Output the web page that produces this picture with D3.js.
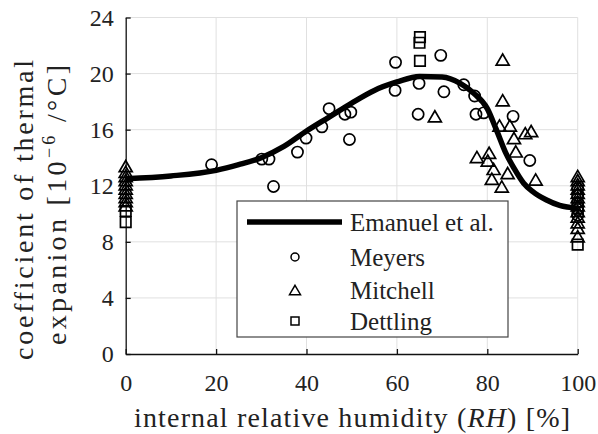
<html>
  <head>
    <title>thermal expansion vs RH</title>
    <script type="text/javascript" src="https://cdn.jsdelivr.net/npm/d3@7"></script>
    <style>
      body { margin: 0; background: white; }
      svg { display: block; }
    </style>
  </head>
  <body>
    <script type="text/javascript">
      // Size
      const w = 598;
      const h = 434;

      // Axis ticks
      const xTicks = [0, 20, 40, 60, 80, 100];
      const yTicks = [0, 4, 8, 12, 16, 20, 24];

      // Emanuel et al. model curve
      const curveRH  = [0, 10, 20, 25, 30, 35, 40, 45, 50, 55, 60, 65, 70, 74, 77, 80, 82, 84, 86, 88, 90, 93, 96, 100];
      const curveCTE = [12.5, 12.7, 13.1, 13.5, 14.0, 14.8, 15.9, 16.9, 17.9, 18.8, 19.4, 19.8, 19.75, 19.3, 18.6, 17.5, 16.0, 14.4, 13.2, 12.2, 11.6, 11.0, 10.6, 10.4];

      // Meyers (circles)
      const meyersRH  = [19, 30.1, 31.7, 32.7, 38.0, 39.9, 43.4, 45.0, 48.5, 49.8, 49.5, 59.7, 59.6, 64.9, 64.7, 69.7, 70.4, 74.8, 77.2, 77.5, 79.2, 85.7, 89.4, 100, 100, 100, 100, 100];
      const meyersCTE = [13.5, 13.9, 13.9, 11.95, 14.4, 15.4, 16.2, 17.5, 17.1, 17.25, 15.3, 20.8, 18.8, 19.3, 17.1, 21.3, 18.7, 19.2, 18.4, 17.1, 17.2, 16.95, 13.8, 11.8, 11.3, 10.8, 10.3, 9.9];

      // Mitchell (triangles)
      const mitchellRH  = [0, 0, 0, 0, 0, 0, 0, 0, 0, 0,
        68.4, 83.4, 83.4, 82.7, 85.0, 85.9, 88.4, 89.7, 86.3, 77.7, 80.4, 80.1, 81.4, 84.5, 81.0, 90.7, 83.2,
        100, 100, 100, 100, 100, 100, 100, 100, 100, 100, 100, 100, 100];
      const mitchellCTE = [13.4, 13.0, 12.7, 12.4, 12.1, 11.8, 11.5, 11.2, 10.9, 10.6,
        16.95, 21.0, 18.1, 16.3, 16.3, 15.4, 15.75, 15.9, 14.45, 14.05, 14.35, 13.8, 13.2, 12.9, 12.5, 12.45, 11.95,
        12.7, 12.4, 12.1, 11.8, 11.5, 11.2, 10.9, 10.6, 10.2, 9.8, 9.4, 9.0, 8.4];

      // Dettling (squares)
      const dettlingRH  = [0, 0, 65.1, 65.0, 65.1, 100, 100];
      const dettlingCTE = [10.2, 9.4, 22.6, 22.2, 20.9, 10.4, 7.8];

      const legendNames = ["Emanuel et al.", "Meyers", "Mitchell", "Dettling"];

      const face = "'Liberation Serif', 'Times New Roman', 'DejaVu Serif', serif";

      // Scales
      const xScale = d3.scaleLinear().domain([0, 100]).range([125.7, 577.7]);
      const yScale = d3.scaleLinear().domain([0, 24]).range([354, 17.5]);

      const svg = d3.select("body").append("svg")
        .attr("width", w)
        .attr("height", h)
        .attr("font-family", face);

      svg.append("rect").attr("width", w).attr("height", h).attr("fill", "white");

      // Grid
      svg.append("g").selectAll("line")
        .data(xTicks.slice(1))
        .enter().append("line")
        .attr("x1", d => xScale(d)).attr("x2", d => xScale(d))
        .attr("y1", yScale(0)).attr("y2", yScale(24))
        .attr("stroke", "#e0e0e0").attr("stroke-width", 1);
      svg.append("g").selectAll("line")
        .data(yTicks.slice(1))
        .enter().append("line")
        .attr("y1", d => yScale(d)).attr("y2", d => yScale(d))
        .attr("x1", xScale(0)).attr("x2", xScale(100))
        .attr("stroke", "#e0e0e0").attr("stroke-width", 1);

      // Axes (ticks inward)
      const xAxis = d3.axisBottom(xScale).tickValues(xTicks).tickSizeInner(-5).tickSizeOuter(0).tickPadding(12);
      const gx = svg.append("g")
        .attr("transform", "translate(0," + yScale(0) + ")")
        .call(xAxis);
      const yAxis = d3.axisLeft(yScale).tickValues(yTicks).tickSizeInner(-5).tickSizeOuter(0).tickPadding(12);
      const gy = svg.append("g")
        .attr("transform", "translate(" + xScale(0) + ",0)")
        .call(yAxis);
      [gx, gy].forEach(g => {
        g.attr("font-family", face);
        g.selectAll("text").attr("font-size", 24).attr("fill", "#222");
        g.selectAll("line, path").attr("stroke", "#111").attr("stroke-width", 1.3);
      });
      gx.selectAll("text").attr("dy", "1.05em");

      // Model curve
      const line = d3.line()
        .x(d => xScale(d[0]))
        .y(d => yScale(d[1]))
        .curve(d3.curveMonotoneX);
      svg.append("path")
        .datum(curveRH.map((r, i) => [r, curveCTE[i]]))
        .attr("d", line)
        .attr("fill", "none")
        .attr("stroke", "black")
        .attr("stroke-width", 5.5);

      // Marker shapes
      function tri(s) {
        const hw = s / 2, hh = s * 0.43;
        return "M0," + (-hh) + "L" + hw + "," + hh + "L" + (-hw) + "," + hh + "Z";
      }
      function sq(s) {
        const a = s / 2;
        return "M" + (-a) + "," + (-a) + "H" + a + "V" + a + "H" + (-a) + "Z";
      }

      svg.append("g").selectAll("circle")
        .data(meyersRH.map((r, i) => [r, meyersCTE[i]]))
        .enter().append("circle")
        .attr("cx", d => xScale(d[0]))
        .attr("cy", d => yScale(d[1]))
        .attr("r", 5.6)
        .attr("fill", "none").attr("stroke", "black").attr("stroke-width", 1.7);

      svg.append("g").selectAll("path")
        .data(mitchellRH.map((r, i) => [r, mitchellCTE[i]]))
        .enter().append("path")
        .attr("transform", d => "translate(" + xScale(d[0]) + "," + yScale(d[1]) + ")")
        .attr("d", tri(13))
        .attr("fill", "none").attr("stroke", "black").attr("stroke-width", 1.7);

      svg.append("g").selectAll("path")
        .data(dettlingRH.map((r, i) => [r, dettlingCTE[i]]))
        .enter().append("path")
        .attr("transform", d => "translate(" + xScale(d[0]) + "," + yScale(d[1]) + ")")
        .attr("d", sq(10.5))
        .attr("fill", "none").attr("stroke", "black").attr("stroke-width", 1.7);

      // Legend
      const lg = svg.append("g").attr("transform", "translate(237,201)");
      lg.append("rect")
        .attr("width", 271).attr("height", 136)
        .attr("fill", "white").attr("stroke", "#444").attr("stroke-width", 1.2);
      const rowY = [21, 56, 89, 120];
      lg.append("line")
        .attr("x1", 10).attr("x2", 105).attr("y1", rowY[0]).attr("y2", rowY[0])
        .attr("stroke", "black").attr("stroke-width", 5.5);
      lg.append("circle").attr("cx", 58).attr("cy", rowY[1]).attr("r", 4)
        .attr("fill", "none").attr("stroke", "black").attr("stroke-width", 1.5);
      lg.append("path").attr("transform", "translate(58," + rowY[2] + ")").attr("d", tri(11))
        .attr("fill", "none").attr("stroke", "black").attr("stroke-width", 1.5);
      lg.append("path").attr("transform", "translate(58," + rowY[3] + ")").attr("d", sq(8))
        .attr("fill", "none").attr("stroke", "black").attr("stroke-width", 1.5);
      lg.selectAll("text.name")
        .data(legendNames)
        .enter().append("text")
        .attr("class", "name")
        .attr("x", 113)
        .attr("y", (d, i) => rowY[i])
        .attr("dy", "0.35em")
        .attr("font-size", 25)
        .attr("fill", "#222")
        .text(d => d);

      // X title
      const xt = svg.append("text")
        .attr("x", 352).attr("y", 427)
        .attr("text-anchor", "middle")
        .attr("font-size", 28)
        .attr("textLength", 436)
        .attr("lengthAdjust", "spacing")
        .attr("fill", "#222");
      xt.append("tspan").text("internal relative humidity (");
      xt.append("tspan").attr("font-style", "italic").text("RH");
      xt.append("tspan").text(") [%]");

      // Y title (two lines)
      svg.append("text")
        .attr("transform", "translate(33,210) rotate(-90)")
        .attr("text-anchor", "middle")
        .attr("font-size", 28)
        .attr("textLength", 300)
        .attr("lengthAdjust", "spacing")
        .attr("fill", "#222")
        .text("coefficient of thermal");
      const yt = svg.append("text")
        .attr("transform", "translate(66,205) rotate(-90)")
        .attr("text-anchor", "middle")
        .attr("font-size", 28)
        .attr("textLength", 280)
        .attr("lengthAdjust", "spacing")
        .attr("fill", "#222");
      yt.append("tspan").text("expanion [10");
      yt.append("tspan").attr("font-size", 18).attr("dy", -11).text("\u22126");
      yt.append("tspan").attr("dy", 11).text(" /\u00B0C]");
    </script>
  </body>
</html>
